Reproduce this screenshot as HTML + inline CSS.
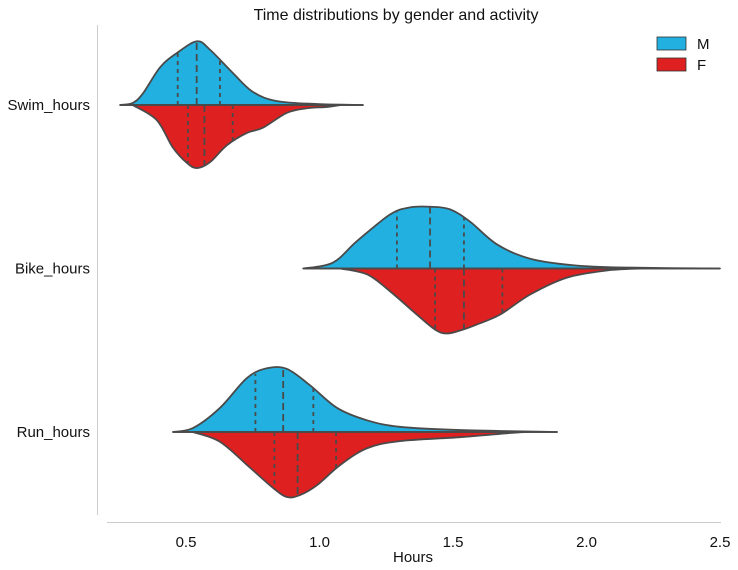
<!DOCTYPE html>
<html><head><meta charset="utf-8"><style>
body{margin:0;background:#fff}
svg{display:block;font-family:"Liberation Sans",Arial,sans-serif}
</style></head><body>
<svg id="chart" width="738" height="570" viewBox="0 0 738 570">
<text x="396" y="20" text-anchor="middle" font-size="16" fill="#111">Time distributions by gender and activity</text>
<line x1="97.5" y1="25" x2="97.5" y2="515" stroke="#ccc" stroke-width="1"/>
<line x1="107" y1="522.5" x2="721" y2="522.5" stroke="#ccc" stroke-width="1"/>
<text x="413" y="562" text-anchor="middle" font-size="15" fill="#111">Hours</text>
<g id="xticks"></g><g id="ylabels"></g><g id="violins"></g>
<g>
<rect x="657" y="37" width="29" height="13" fill="#21b0e0" stroke="#333" stroke-width="0.8"/>
<text x="697" y="49" font-size="15" fill="#111">M</text>
<rect x="657" y="58" width="29" height="13" fill="#de2020" stroke="#333" stroke-width="0.8"/>
<text x="697" y="70" font-size="15" fill="#111">F</text>
</g>
</svg>
<script>
const categories=["Swim_hours","Bike_hours","Run_hours"];
const xTicks=[0.5,1.0,1.5,2.0,2.5];
const xTickLabels=["0.5","1.0","1.5","2.0","2.5"];
// density profiles: x in hours, w relative width (0..1)
const swimMx=[0.253,0.30,0.339,0.403,0.466,0.541,0.59,0.676,0.751,0.841,0.99,1.163];
const swimMw=[0,0.03,0.18,0.58,0.80,0.98,0.85,0.49,0.20,0.06,0.015,0];
const swimFx=[0.30,0.39,0.45,0.503,0.541,0.59,0.653,0.728,0.788,0.878,0.953,1.028,1.08];
const swimFw=[0,0.23,0.65,0.89,0.97,0.88,0.62,0.43,0.35,0.12,0.05,0.03,0];
const bikeMx=[0.939,1.05,1.14,1.264,1.339,1.414,1.489,1.564,1.665,1.789,1.95,2.137,2.5];
const bikeMw=[0,0.09,0.42,0.83,0.94,0.95,0.91,0.72,0.37,0.15,0.05,0.015,0];
const bikeFx=[1.077,1.178,1.264,1.365,1.433,1.478,1.537,1.59,1.676,1.789,1.927,2.077,2.2];
const bikeFw=[0,0.09,0.35,0.71,0.94,1.0,0.94,0.86,0.71,0.40,0.14,0.03,0];
const runMx=[0.451,0.526,0.627,0.728,0.803,0.878,0.964,1.066,1.178,1.301,1.526,1.89];
const runMw=[0,0.06,0.37,0.83,0.98,0.97,0.72,0.37,0.18,0.08,0.03,0];
const runFx=[0.526,0.627,0.74,0.826,0.878,0.927,0.99,1.077,1.178,1.301,1.526,1.713,1.777];
const runFw=[0,0.15,0.55,0.86,1.0,0.97,0.82,0.51,0.25,0.14,0.08,0.015,0];
const quartM=[[0.469,0.540,0.627],[1.29,1.414,1.541],[0.760,0.864,0.977]];
const quartF=[[0.507,0.569,0.675],[1.433,1.541,1.685],[0.831,0.918,1.062]];

const NS="http://www.w3.org/2000/svg";
const X=v=>52.5+v*267, Y=i=>105+i*163.5, W=65;
function mk(t,a,p){const e=document.createElementNS(NS,t);for(const k in a)e.setAttribute(k,a[k]);p.appendChild(e);return e;}
const xt=document.getElementById('xticks');
xTicks.forEach((v,i)=>{const t=mk('text',{x:X(v),y:547,'text-anchor':'middle','font-size':15,fill:'#111'},xt);t.textContent=xTickLabels[i];

});
const yl=document.getElementById('ylabels');
categories.forEach((c,i)=>{const t=mk('text',{x:90,y:Y(i)+5,'text-anchor':'end','font-size':15,fill:'#111'},yl);t.textContent=c;

});
function smooth(pts){let d=`M${pts[0][0]},${pts[0][1]}`;for(let i=0;i<pts.length-1;i++){const p0=pts[Math.max(0,i-1)],p1=pts[i],p2=pts[i+1],p3=pts[Math.min(pts.length-1,i+2)];
d+=` C${p1[0]+(p2[0]-p0[0])/6},${p1[1]+(p2[1]-p0[1])/6} ${p2[0]-(p3[0]-p1[0])/6},${p2[1]-(p3[1]-p1[1])/6} ${p2[0]},${p2[1]}`;}return d;}
function interp(xs,ws,v){if(v<=xs[0]||v>=xs[xs.length-1])return 0;for(let i=0;i<xs.length-1;i++)if(v>=xs[i]&&v<=xs[i+1])return ws[i]+(ws[i+1]-ws[i])*(v-xs[i])/(xs[i+1]-xs[i]);return 0;}
const vg=document.getElementById('violins');
const prof=[[swimMx,swimMw,swimFx,swimFw],[bikeMx,bikeMw,bikeFx,bikeFw],[runMx,runMw,runFx,runFw]];
prof.forEach((p,i)=>{const cy=Y(i);
[[p[0],p[1],-1,'#21b0e0',quartM[i],'m'],[p[2],p[3],1,'#de2020',quartF[i],'f']].forEach(([xs,ws,s,col,q,g])=>{
const pts=xs.map((v,k)=>[X(v),cy+s*ws[k]*W]);
const d=smooth(pts)+' Z';
const path=mk('path',{d:d,fill:col,stroke:'#4a4a4a','stroke-width':1.8,'stroke-linejoin':'round'},vg);


q.forEach((v,k)=>{const h=interp(xs,ws,v)*W;const l=mk('line',{x1:X(v),y1:cy,x2:X(v),y2:cy+s*h,stroke:'#4a4a4a','stroke-width':1.8,'stroke-dasharray':k===1?'7,4':'4,4'},vg);

});
});
const cl=mk('line',{x1:X(Math.min(p[0][0],p[2][0])),y1:cy,x2:X(Math.max(p[0][p[0].length-1],p[2][p[2].length-1])),y2:cy,stroke:'#4a4a4a','stroke-width':1.8},vg);


});
</script>
</body></html>
